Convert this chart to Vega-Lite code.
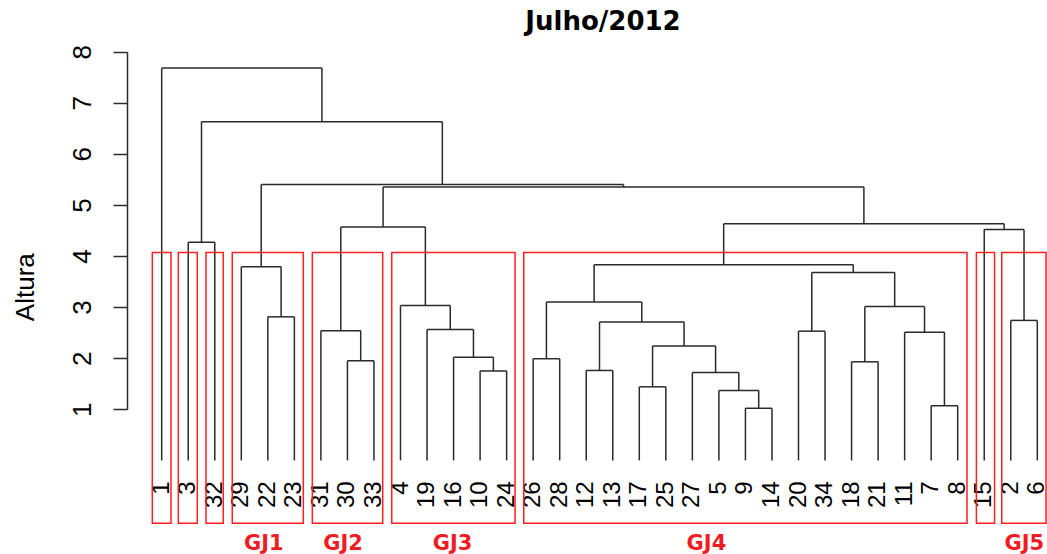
{
  "$schema": "https://vega.github.io/schema/vega-lite/v6.json",
  "autosize": "none",
  "width": 920,
  "height": 490,
  "padding": {"left": 127, "top": 40, "right": 0, "bottom": 24},
  "background": "white",
  "config": {"view": {"stroke": null}},
  "title": {
    "text": "Julho/2012",
    "font": "DejaVu Sans",
    "fontSize": 26,
    "fontWeight": "bold",
    "color": "black",
    "anchor": "middle",
    "frame": "group",
    "baseline": "alphabetic",
    "offset": 12,
    "dx": 16,
    "dy": 28
  },
  "datasets": {
    "fusoes": [
      {"xl": 23, "hl": 0, "xr": 24, "hr": 0, "h": 1.02},
      {"xl": 30, "hl": 0, "xr": 31, "hr": 0, "h": 1.07},
      {"xl": 22, "hl": 0, "xr": 23.5, "hr": 1.02, "h": 1.37},
      {"xl": 19, "hl": 0, "xr": 20, "hr": 0, "h": 1.44},
      {"xl": 21, "hl": 0, "xr": 22.75, "hr": 1.37, "h": 1.72},
      {"xl": 13, "hl": 0, "xr": 14, "hr": 0, "h": 1.75},
      {"xl": 17, "hl": 0, "xr": 18, "hr": 0, "h": 1.76},
      {"xl": 27, "hl": 0, "xr": 28, "hr": 0, "h": 1.93},
      {"xl": 8, "hl": 0, "xr": 9, "hr": 0, "h": 1.95},
      {"xl": 15, "hl": 0, "xr": 16, "hr": 0, "h": 1.99},
      {"xl": 12, "hl": 0, "xr": 13.5, "hr": 1.75, "h": 2.02},
      {"xl": 19.5, "hl": 1.44, "xr": 21.875, "hr": 1.72, "h": 2.24},
      {"xl": 29, "hl": 0, "xr": 30.5, "hr": 1.07, "h": 2.51},
      {"xl": 25, "hl": 0, "xr": 26, "hr": 0, "h": 2.53},
      {"xl": 7, "hl": 0, "xr": 8.5, "hr": 1.95, "h": 2.54},
      {"xl": 11, "hl": 0, "xr": 12.75, "hr": 2.02, "h": 2.56},
      {"xl": 17.5, "hl": 1.76, "xr": 20.6875, "hr": 2.24, "h": 2.71},
      {"xl": 33, "hl": 0, "xr": 34, "hr": 0, "h": 2.74},
      {"xl": 5, "hl": 0, "xr": 6, "hr": 0, "h": 2.81},
      {"xl": 27.5, "hl": 1.93, "xr": 29.75, "hr": 2.51, "h": 3.01},
      {"xl": 10, "hl": 0, "xr": 11.875, "hr": 2.56, "h": 3.03},
      {"xl": 15.5, "hl": 1.99, "xr": 19.09375, "hr": 2.71, "h": 3.10},
      {"xl": 25.5, "hl": 2.53, "xr": 28.625, "hr": 3.01, "h": 3.68},
      {"xl": 4, "hl": 0, "xr": 5.5, "hr": 2.81, "h": 3.79},
      {"xl": 17.296875, "hl": 3.10, "xr": 27.0625, "hr": 3.68, "h": 3.83},
      {"xl": 2, "hl": 0, "xr": 3, "hr": 0, "h": 4.27},
      {"xl": 32, "hl": 0, "xr": 33.5, "hr": 2.74, "h": 4.52},
      {"xl": 7.75, "hl": 2.54, "xr": 10.9375, "hr": 3.03, "h": 4.57},
      {"xl": 22.1796875, "hl": 3.83, "xr": 32.75, "hr": 4.52, "h": 4.63},
      {"xl": 9.34375, "hl": 4.57, "xr": 27.46484375, "hr": 4.63, "h": 5.35},
      {"xl": 4.75, "hl": 3.79, "xr": 18.404296875, "hr": 5.35, "h": 5.40},
      {"xl": 2.5, "hl": 4.27, "xr": 11.5771484375, "hr": 5.40, "h": 6.63},
      {"xl": 1, "hl": 0, "xr": 7.03857421875, "hr": 6.63, "h": 7.68}
    ],
    "folhas": [
      {"ordem": 1, "rotulo": "1"}, {"ordem": 2, "rotulo": "3"}, {"ordem": 3, "rotulo": "32"},
      {"ordem": 4, "rotulo": "29"}, {"ordem": 5, "rotulo": "22"}, {"ordem": 6, "rotulo": "23"},
      {"ordem": 7, "rotulo": "31"}, {"ordem": 8, "rotulo": "30"}, {"ordem": 9, "rotulo": "33"},
      {"ordem": 10, "rotulo": "4"}, {"ordem": 11, "rotulo": "19"}, {"ordem": 12, "rotulo": "16"},
      {"ordem": 13, "rotulo": "10"}, {"ordem": 14, "rotulo": "24"}, {"ordem": 15, "rotulo": "26"},
      {"ordem": 16, "rotulo": "28"}, {"ordem": 17, "rotulo": "12"}, {"ordem": 18, "rotulo": "13"},
      {"ordem": 19, "rotulo": "17"}, {"ordem": 20, "rotulo": "25"}, {"ordem": 21, "rotulo": "27"},
      {"ordem": 22, "rotulo": "5"}, {"ordem": 23, "rotulo": "9"}, {"ordem": 24, "rotulo": "14"},
      {"ordem": 25, "rotulo": "20"}, {"ordem": 26, "rotulo": "34"}, {"ordem": 27, "rotulo": "18"},
      {"ordem": 28, "rotulo": "21"}, {"ordem": 29, "rotulo": "11"}, {"ordem": 30, "rotulo": "7"},
      {"ordem": 31, "rotulo": "8"}, {"ordem": 32, "rotulo": "15"}, {"ordem": 33, "rotulo": "2"},
      {"ordem": 34, "rotulo": "6"}
    ],
    "grupos": [
      {"x1": 0.646, "x2": 1.35, "topo": 4.07, "base": -1.23},
      {"x1": 1.626, "x2": 2.342, "topo": 4.07, "base": -1.23},
      {"x1": 2.67, "x2": 3.32, "topo": 4.07, "base": -1.23},
      {"x1": 3.66, "x2": 6.337, "topo": 4.07, "base": -1.23, "rotulo": "GJ1", "centro": 4.845},
      {"x1": 6.677, "x2": 9.33, "topo": 4.07, "base": -1.23, "rotulo": "GJ2", "centro": 7.834},
      {"x1": 9.67, "x2": 14.317, "topo": 4.07, "base": -1.23, "rotulo": "GJ3", "centro": 11.96},
      {"x1": 14.645, "x2": 31.35, "topo": 4.07, "base": -1.23, "rotulo": "GJ4", "centro": 21.53},
      {"x1": 31.705, "x2": 32.39, "topo": 4.07, "base": -1.23},
      {"x1": 32.66, "x2": 34.33, "topo": 4.07, "base": -1.23, "rotulo": "GJ5", "centro": 33.51}
    ]
  },
  "layer": [
    {
      "data": {"name": "fusoes"},
      "mark": {"type": "rule", "color": "#2a2a2a", "strokeWidth": 1.5},
      "encoding": {
        "x": {"field": "xl", "type": "quantitative", "scale": {"domain": [1, 34], "range": [34.7, 910.3], "nice": false, "zero": false}, "axis": null},
        "x2": {"field": "xr"},
        "y": {
          "field": "h", "type": "quantitative",
          "scale": {"domain": [1, 8], "range": [369.3, 11.7], "nice": false, "zero": false},
          "axis": {
            "values": [1, 2, 3, 4, 5, 6, 7, 8],
            "format": "d",
            "grid": false,
            "domainColor": "#2a2a2a", "domainWidth": 1.5,
            "tickColor": "#2a2a2a", "tickWidth": 1.5, "tickSize": 14,
            "labelAngle": 270, "labelAlign": "center", "labelBaseline": "alphabetic",
            "labelPadding": 23, "labelFont": "Liberation Sans", "labelFontSize": 26, "labelColor": "black",
            "title": "Altura", "titleFont": "Liberation Sans", "titleFontSize": 26, "titleFontWeight": "normal",
            "titleColor": "black", "titleAngle": 270, "titleAlign": "center", "titleBaseline": "alphabetic",
            "titleX": -94, "titleY": 246.7
          }
        }
      }
    },
    {
      "data": {"name": "fusoes"},
      "mark": {"type": "rule", "color": "#2a2a2a", "strokeWidth": 1.5},
      "encoding": {
        "x": {"field": "xl", "type": "quantitative", "scale": {"domain": [1, 34], "range": [34.7, 910.3], "nice": false, "zero": false}, "axis": null},
        "y": {"field": "hl", "type": "quantitative", "scale": {"domain": [1, 8], "range": [369.3, 11.7], "nice": false, "zero": false}},
        "y2": {"field": "h"}
      }
    },
    {
      "data": {"name": "fusoes"},
      "mark": {"type": "rule", "color": "#2a2a2a", "strokeWidth": 1.5},
      "encoding": {
        "x": {"field": "xr", "type": "quantitative", "scale": {"domain": [1, 34], "range": [34.7, 910.3], "nice": false, "zero": false}, "axis": null},
        "y": {"field": "hr", "type": "quantitative", "scale": {"domain": [1, 8], "range": [369.3, 11.7], "nice": false, "zero": false}},
        "y2": {"field": "h"}
      }
    },
    {
      "data": {"name": "folhas"},
      "mark": {"type": "text", "angle": 270, "align": "right", "baseline": "middle", "dx": -21, "font": "Liberation Sans", "fontSize": 24, "color": "black"},
      "encoding": {
        "x": {"field": "ordem", "type": "quantitative", "scale": {"domain": [1, 34], "range": [34.7, 910.3], "nice": false, "zero": false}, "axis": null},
        "y": {"datum": 0, "type": "quantitative", "scale": {"domain": [1, 8], "range": [369.3, 11.7], "nice": false, "zero": false}},
        "text": {"field": "rotulo"}
      }
    },
    {
      "data": {"name": "grupos"},
      "mark": {"type": "rect", "fill": "transparent", "stroke": "#ff2020", "strokeWidth": 1.5},
      "encoding": {
        "x": {"field": "x1", "type": "quantitative", "scale": {"domain": [1, 34], "range": [34.7, 910.3], "nice": false, "zero": false}, "axis": null},
        "x2": {"field": "x2"},
        "y": {"field": "topo", "type": "quantitative", "scale": {"domain": [1, 8], "range": [369.3, 11.7], "nice": false, "zero": false}},
        "y2": {"field": "base"}
      }
    },
    {
      "data": {"name": "grupos"},
      "transform": [{"filter": "isValid(datum.rotulo)"}],
      "mark": {"type": "text", "align": "center", "baseline": "alphabetic", "dy": 27, "font": "DejaVu Sans", "fontSize": 21, "fontWeight": "bold", "color": "#f01c24"},
      "encoding": {
        "x": {"field": "centro", "type": "quantitative", "scale": {"domain": [1, 34], "range": [34.7, 910.3], "nice": false, "zero": false}, "axis": null},
        "y": {"field": "base", "type": "quantitative", "scale": {"domain": [1, 8], "range": [369.3, 11.7], "nice": false, "zero": false}},
        "text": {"field": "rotulo"}
      }
    }
  ]
}
